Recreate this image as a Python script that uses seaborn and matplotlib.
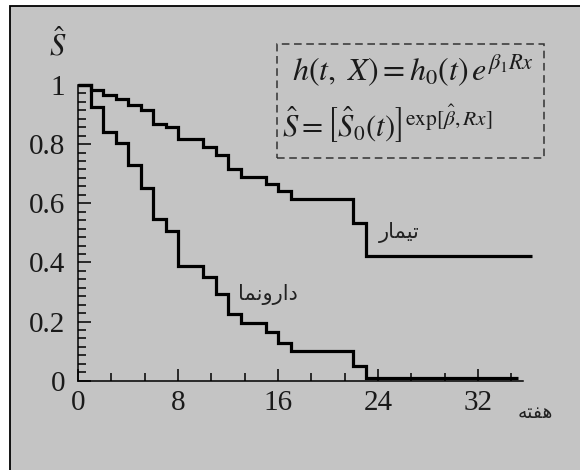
import matplotlib
matplotlib.use("Agg")
import matplotlib.pyplot as plt
import numpy as np
import pandas as pd
import seaborn as sns
from matplotlib.patches import Rectangle
from matplotlib.ticker import FixedLocator, MultipleLocator

# Cox-adjusted survival estimates at each pooled failure time (weeks)
weeks = [0, 1, 2, 3, 4, 5, 6, 7, 8, 10, 11, 12, 13, 15, 16, 17, 22, 23]
treatment_surv = [1.0, 0.982, 0.967, 0.953, 0.933, 0.915, 0.868, 0.859, 0.816,
                  0.791, 0.762, 0.716, 0.690, 0.665, 0.642, 0.616, 0.532, 0.422]
placebo_surv = [1.0, 0.927, 0.841, 0.803, 0.729, 0.651, 0.546, 0.507, 0.387,
                0.352, 0.294, 0.226, 0.194, 0.166, 0.126, 0.101, 0.050, 0.010]
treatment_end = 36.3
placebo_end = 35.2

x_ticks = [0, 8, 16, 24, 32]
y_ticks = [0, 0.2, 0.4, 0.6, 0.8, 1.0]
y_tick_labels = ["0", "0.2", "0.4", "0.6", "0.8", "1"]

# Persian labels written in shaped (presentation) forms, visual order
label_treatment = "\uFEAD\uFE8E\uFEE4\uFEF4\uFE97"                 # تیمار
label_placebo = "\uFE8E\uFEE4\uFEE7\uFEED\uFEAD\uFE8D\uFEA9"       # دارونما
label_weeks = "\uFEEA\uFE98\uFED4\uFEEB"                           # هفته

sns.set_style("ticks")
plt.rcParams["font.family"] = ["Liberation Serif", "DejaVu Serif"]
plt.rcParams["mathtext.fontset"] = "stix"

rows = []
for name, surv, end in [("treatment", treatment_surv, treatment_end),
                        ("placebo", placebo_surv, placebo_end)]:
    for w, s in zip(weeks + [end], surv + [surv[-1]]):
        rows.append({"week": w, "survival": s, "group": name})
df = pd.DataFrame(rows)

W, H = 580, 470
fig = plt.figure(figsize=(W / 100, H / 100), dpi=100)
fig.patch.set_facecolor("white")
panel = Rectangle((10 / W, -0.05), 1.0, (H - 6) / H + 0.05,
                  transform=fig.transFigure, facecolor="#c4c4c4",
                  edgecolor="black", linewidth=1.3, zorder=-10)
fig.add_artist(panel)

ax = fig.add_axes([78 / W, (H - 380.7) / H, 445 / W, (380.7 - 85) / H])
ax.set_facecolor("none")

sns.lineplot(data=df, x="week", y="survival", hue="group",
             palette={"treatment": "black", "placebo": "black"},
             estimator=None, sort=False, drawstyle="steps-post",
             linewidth=2.3, legend=False, ax=ax)
for line in ax.lines:
    line.set_clip_on(False)
    line.set_solid_joinstyle("miter")
    line.set_solid_capstyle("butt")

ax.set_xlim(0, 35.6)
ax.set_ylim(0, 1.0)
ax.set_xlabel("")
ax.set_ylabel("")

for side in ["top", "right"]:
    ax.spines[side].set_visible(False)
for side in ["left", "bottom"]:
    ax.spines[side].set_linewidth(1.1)
    ax.spines[side].set_color("black")

ax.xaxis.set_major_locator(FixedLocator(x_ticks))
ax.xaxis.set_minor_locator(MultipleLocator(8 / 3))
ax.yaxis.set_major_locator(FixedLocator(y_ticks))
ax.yaxis.set_minor_locator(MultipleLocator(0.2 / 7))
ax.set_xticklabels([str(t) for t in x_ticks])
ax.set_yticklabels(y_tick_labels)

ax.tick_params(which="both", direction="in", width=1.1, color="black")
ax.tick_params(which="major", length=9, labelsize=21, labelcolor="#1a1a1a")
ax.tick_params(which="minor", length=5.5)
ax.tick_params(axis="y", which="major", pad=9)
ax.tick_params(axis="x", which="major", pad=7)

# curve labels
ax.text(25.7, 0.50, label_treatment, family=["DejaVu Sans"], fontsize=15,
        ha="center", va="center", color="#222222")
ax.text(15.2, 0.29, label_placebo, family=["DejaVu Sans"], fontsize=15,
        ha="center", va="center", color="#222222")
fig.text(535 / W, (H - 413) / H, label_weeks, family=["DejaVu Sans"],
         fontsize=13.5, ha="center", va="center", color="#222222")

# axis symbol
fig.text(58 / W, (H - 55) / H, r"$\hat{S}$", fontsize=22,
         ha="center", va="baseline", color="#1a1a1a")

# model box
box = Rectangle((276.7 / W, (H - 158.3) / H), (544 - 276.7) / W, (158.3 - 44) / H,
                transform=fig.transFigure, facecolor="none", edgecolor="#333333",
                linewidth=1.1, linestyle=(0, (5, 3)))
fig.add_artist(box)
fig.text(291.7 / W, (H - 81.7) / H, r"$h(t,\ X) = h_0(t)\,e^{\beta_1 Rx}$",
         fontsize=23, ha="left", va="baseline", color="#1a1a1a")
fig.text(281.7 / W, (H - 136.7) / H,
         r"$\hat{S} = \left[\hat{S}_0(t)\right]^{\mathrm{exp}[\hat{\beta}, Rx]}$",
         fontsize=22, ha="left", va="baseline", color="#1a1a1a")

fig.savefig("out.png", dpi=100)
